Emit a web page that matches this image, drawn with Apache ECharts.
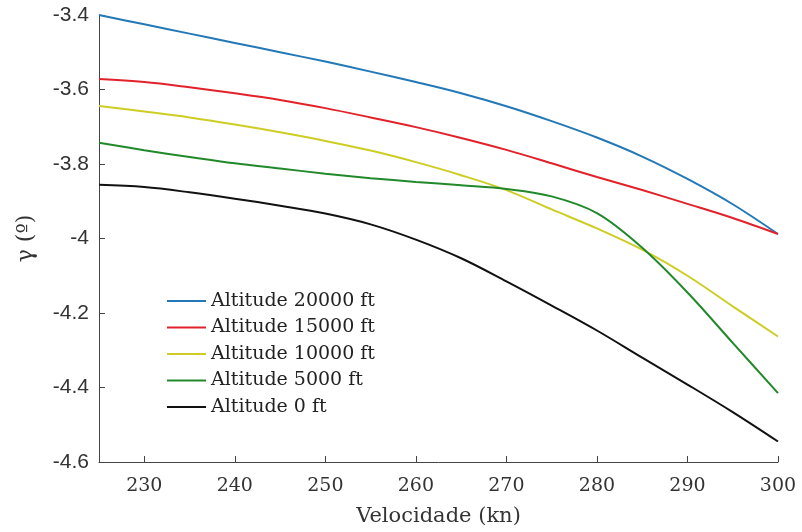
<!DOCTYPE html>
<html lang="pt">
<head>
    <meta charset="UTF-8">
    <title>Gamma x Velocidade</title>
    <script src="https://cdn.jsdelivr.net/npm/echarts@6.0.0/dist/echarts.min.js"></script>
    <style>
        html, body { margin: 0; padding: 0; background: #fff; }
        #main { width: 802px; height: 532px; }
    </style>
</head>
<body>
    <div id="main"></div>

    <script>
        // velocidade (kn)
        var velocidade = [225, 230, 235, 240, 245, 250, 255, 260, 265, 270, 275, 280, 285, 290, 295, 300];

        // gamma (graus) por altitude
        var alt20000 = [-3.400, -3.425, -3.450, -3.475, -3.500, -3.525, -3.552, -3.580, -3.610, -3.645, -3.685, -3.729, -3.780, -3.840, -3.908, -3.988];
        var alt15000 = [-3.572, -3.580, -3.594, -3.610, -3.628, -3.650, -3.675, -3.701, -3.730, -3.762, -3.798, -3.835, -3.870, -3.907, -3.945, -3.988];
        var alt10000 = [-3.644, -3.659, -3.675, -3.694, -3.715, -3.738, -3.764, -3.795, -3.830, -3.870, -3.922, -3.973, -4.030, -4.100, -4.182, -4.263];
        var alt5000  = [-3.743, -3.763, -3.781, -3.798, -3.812, -3.826, -3.838, -3.848, -3.857, -3.867, -3.887, -3.932, -4.025, -4.145, -4.280, -4.415];
        var alt0     = [-3.856, -3.862, -3.876, -3.893, -3.912, -3.933, -3.962, -4.003, -4.053, -4.115, -4.180, -4.247, -4.320, -4.392, -4.466, -4.545];

        var xTicks = [230, 240, 250, 260, 270, 280, 290, 300];

        var nomes = ['Altitude 20000 ft', 'Altitude 15000 ft', 'Altitude 10000 ft', 'Altitude 5000 ft', 'Altitude 0 ft'];
        var cores = ['#2379b8', '#e2222a', '#cdcd24', '#22892a', '#111111'];
        var valores = [alt20000, alt15000, alt10000, alt5000, alt0];

        var serif = 'DejaVu Serif';

        function pares(ys) {
            return velocidade.map(function (v, i) { return [v, ys[i]]; });
        }

        var chart = echarts.init(document.getElementById('main'));

        var series = nomes.map(function (nome, i) {
            return {
                name: nome,
                type: 'line',
                data: pares(valores[i]),
                smooth: 0.35,
                showSymbol: false,
                lineStyle: { color: cores[i], width: 2 },
                itemStyle: { color: cores[i] }
            };
        });

        chart.setOption({
            animation: false,
            grid: { left: 99, right: 24, top: 15, bottom: 68 },
            legend: {
                orient: 'vertical',
                left: 162,
                top: 286,
                icon: 'rect',
                itemWidth: 39,
                itemHeight: 2,
                itemGap: 6.5,
                data: nomes,
                textStyle: { fontFamily: serif, fontSize: 19, color: '#222', lineHeight: 20 }
            },
            xAxis: {
                type: 'value',
                min: 225,
                max: 300,
                name: 'Velocidade (kn)',
                nameLocation: 'middle',
                nameGap: 44,
                nameTextStyle: { fontFamily: serif, fontSize: 21, color: '#333' },
                axisLine: { lineStyle: { color: '#444', width: 1 } },
                axisTick: { inside: true, length: 6, customValues: xTicks, lineStyle: { color: '#444' } },
                axisLabel: { customValues: xTicks, margin: 15, fontFamily: serif, fontSize: 19, color: '#333' },
                splitLine: { show: false }
            },
            yAxis: {
                type: 'value',
                min: -4.6,
                max: -3.4,
                interval: 0.2,
                name: 'γ (º)',
                nameLocation: 'middle',
                nameRotate: 90,
                nameGap: 62,
                nameTextStyle: { fontFamily: serif, fontSize: 22, color: '#333' },
                axisLine: { show: true, lineStyle: { color: '#444', width: 1 } },
                axisTick: { show: true, inside: true, length: 6, lineStyle: { color: '#444' } },
                axisLabel: { margin: 10, fontFamily: 'Liberation Sans', fontSize: 21, color: '#333' },
                splitLine: { show: false }
            },
            series: series
        });
    </script>
</body>
</html>
